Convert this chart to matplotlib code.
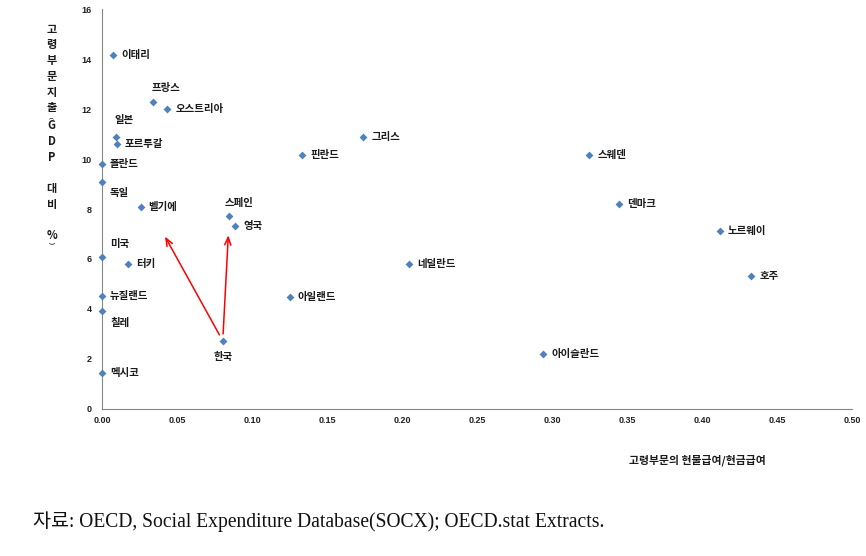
import matplotlib
matplotlib.use("Agg")
import matplotlib.pyplot as plt

plt.rcParams["font.family"] = ["Noto Sans CJK KR", "DejaVu Sans"]

# data: (kind-to-cash ratio in old-age spending, old-age spending % of GDP)
countries = ["이태리", "프랑스", "오스트리아", "일본", "포르투갈", "폴란드", "독일",
             "벨기에", "미국", "터키", "뉴질랜드", "칠레", "멕시코", "한국",
             "스페인", "영국", "핀란드", "그리스", "네덜란드", "아일랜드",
             "스웨덴", "덴마크", "노르웨이", "호주", "아이슬란드"]
ratio = [0.0075, 0.034, 0.0435, 0.0093, 0.010, 0.0, 0.0,
         0.0258, 0.0, 0.0175, 0.0, 0.0, 0.0, 0.0805,
         0.0847, 0.0887, 0.1335, 0.1742, 0.2047, 0.1253,
         0.3249, 0.3449, 0.412, 0.4329, 0.2942]
spending = [14.18, 12.28, 12.0, 10.88, 10.59, 9.8, 9.07,
            8.08, 6.08, 5.8, 4.51, 3.92, 1.42, 2.72,
            7.71, 7.31, 10.18, 10.88, 5.79, 4.49,
            10.18, 8.19, 7.11, 5.31, 2.19]

# arrows drawn from Korea toward these points
arrow_from = "한국"
arrow_tip_x = [0.042, 0.0842]
arrow_tip_y = [6.9, 6.95]

x_ticks = [0.0, 0.05, 0.10, 0.15, 0.20, 0.25, 0.30, 0.35, 0.40, 0.45, 0.50]
y_ticks = [0, 2, 4, 6, 8, 10, 12, 14, 16]

x_title = "고령부문의 현물급여/현금급여"
source = "자료: OECD, Social Expenditure Database(SOCX); OECD.stat Extracts."

# label placement in pixels (dx, dy, ha); default is to the right
px = 0.72
label_pos = {
    "프랑스": (-1, 14, "left"),
    "일본": (-1, 17, "left"),
    "독일": (8, -11, "left"),
    "미국": (8, 13, "left"),
    "칠레": (8, -12, "left"),
    "한국": (0, -16, "center"),
    "스페인": (-4, 13, "left"),
}

fig = plt.figure(figsize=(8.66, 5.56), dpi=100)
ax = fig.add_axes([102 / 866, 1 - 408.8 / 556, 750 / 866, 399.5 / 556])

ax.scatter(ratio, spending, marker="D", s=16, color="#4F81BD", linewidths=0,
           zorder=3, clip_on=False)

for name, x, y in zip(countries, ratio, spending):
    dx, dy, ha = label_pos.get(name, (8, 0, "left"))
    ax.annotate(name, (x, y), xytext=(dx * px, dy * px), textcoords="offset points",
                ha=ha, va="center", fontsize=7.5, fontweight="bold", color="#1a1a1a")

k = countries.index(arrow_from)
for tx, ty in zip(arrow_tip_x, arrow_tip_y):
    ax.annotate("", xy=(tx, ty), xytext=(ratio[k], spending[k]),
                arrowprops=dict(arrowstyle="->,head_length=0.55,head_width=0.22",
                                color="#FF0000", lw=1.1, shrinkA=5, shrinkB=0))

ax.set_xlim(0, 0.5)
ax.set_ylim(0, 16)
ax.set_xticks(x_ticks)
ax.set_xticklabels([f"{v:.2f}" for v in x_ticks])
ax.set_yticks(y_ticks)
ax.set_yticklabels([str(v) for v in y_ticks])
ax.tick_params(length=0, labelsize=6.5, labelcolor="#222222")
ax.tick_params(axis="y", pad=7.5)
ax.tick_params(axis="x", pad=5.5)
for t in ax.get_xticklabels() + ax.get_yticklabels():
    t.set_fontweight("bold")
    t.set_family(["Liberation Sans", "DejaVu Sans"])
for s in ["top", "right"]:
    ax.spines[s].set_visible(False)
for s in ["left", "bottom"]:
    ax.spines[s].set_color("#868686")
    ax.spines[s].set_linewidth(0.8)

# vertical stacked y title "고령부문지출(GDP 대비 %)", one character per line
lines = ["고", "령", "부", "문", "지", "출", "G", "D", "P", "", "대", "비", "", "%"]
ys = [29.3 + 15.7 * i for i in range(len(lines))]
ys[6:] = [y + 2.5 for y in ys[6:]]
for ch, yp in zip(lines, ys):
    if ch:
        fig.text(51.7 / 866, 1 - yp / 556, ch, ha="center", va="center",
                 fontsize=8, fontweight="bold", color="#1a1a1a")
fig.text(51.7 / 866, 1 - 117 / 556, "︵", ha="center", va="center", fontsize=3.5,
         fontweight="bold", color="#1a1a1a")
fig.text(51.7 / 866, 1 - 245 / 556, "︶", ha="center", va="center", fontsize=4.5,
         fontweight="bold", color="#1a1a1a")

fig.text(697 / 866, 1 - 460.7 / 556, x_title, ha="center", va="center",
         fontsize=7.8, fontweight="bold", color="#1a1a1a")

fig.text(32.7 / 866, 1 - 526.7 / 556, source, ha="left", va="baseline",
         fontsize=14.1, color="#111111", family=["Liberation Serif", "Noto Sans CJK KR"])

fig.savefig("out.png", dpi=100)
